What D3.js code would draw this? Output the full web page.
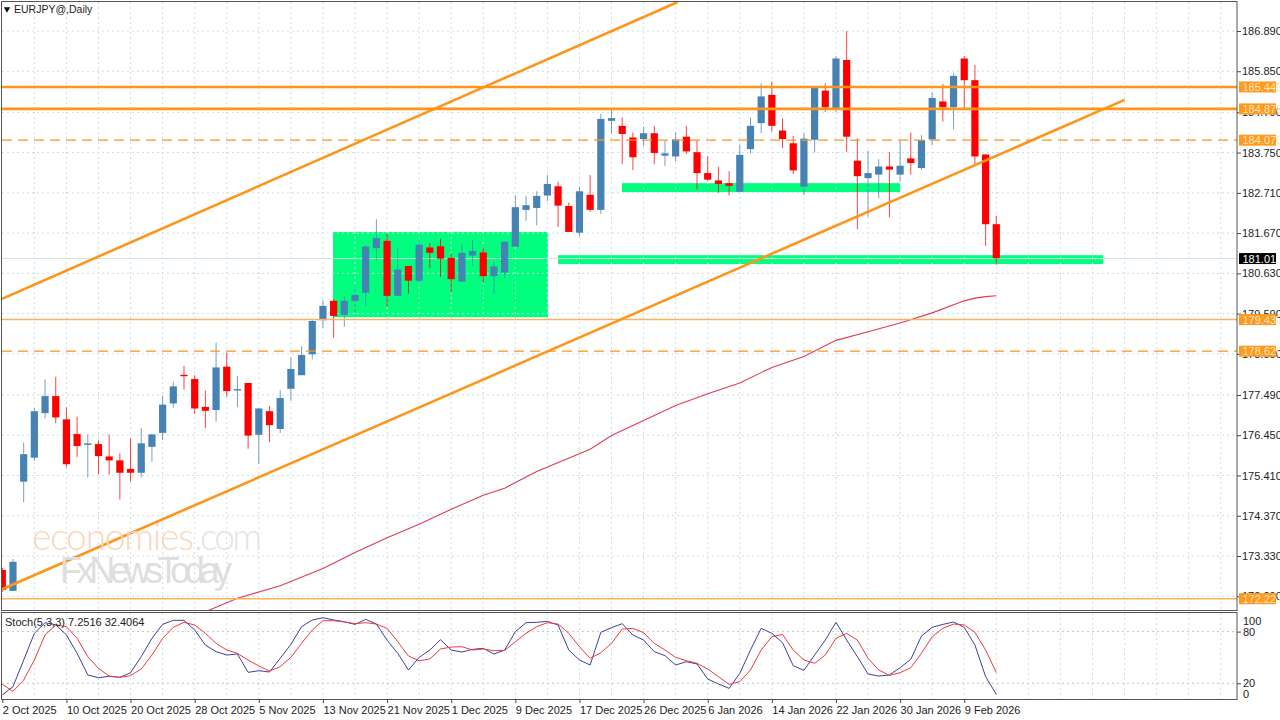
<!DOCTYPE html>
<html>
<head>
<meta charset="utf-8">
<script src="https://cdn.jsdelivr.net/npm/d3@7"></script>
<style>
  html, body { margin: 0; padding: 0; background: #fff; }
  svg { display: block; }
  text { font-family: "Liberation Sans Narrow", "Liberation Sans", sans-serif; font-size: 11px; fill: #222; }
</style>
</head>
<body>
<script>
const opens = [
  172.97,172.43,175.25,175.87,177.02,177.46,176.86,176.48,176.20,176.22,
  175.90,175.80,175.58,175.48,176.15,176.51,177.27,178.01,177.90,177.18,
  177.10,178.22,177.62,177.80,176.46,177.07,176.61,177.65,178.00,178.54,
  179.42,179.92,179.56,179.92,180.13,181.28,181.47,180.05,180.82,180.44,
  181.30,181.33,181.03,180.42,181.09,181.17,180.56,180.65,181.32,182.27,
  182.32,182.64,182.88,182.37,181.68,182.66,182.27,184.57,184.44,184.14,
  184.10,184.25,183.67,183.65,184.16,183.76,183.22,183.03,182.96,182.74,
  183.84,184.51,185.24,184.32,183.99,182.87,184.08,185.35,184.85,186.14,
  183.54,183.09,183.18,183.39,183.18,183.60,183.35,184.09,185.07,184.92,
  186.18,185.62,183.70,181.90];
const closes = [
  172.45,173.18,175.96,177.07,177.46,176.91,175.70,176.17,176.24,175.91,
  175.80,175.48,175.48,176.24,176.47,177.24,177.71,177.98,177.14,177.08,
  178.20,177.59,177.64,176.44,177.14,176.71,177.41,178.16,178.52,179.40,
  179.79,179.53,179.92,180.07,181.32,181.54,180.05,180.73,180.44,181.37,
  181.16,181.01,180.48,181.16,181.21,180.56,180.81,181.45,182.34,182.39,
  182.63,182.94,182.38,181.70,182.75,182.27,184.62,184.64,184.23,183.63,
  184.25,183.74,183.73,184.09,183.78,183.22,183.05,182.94,182.89,183.69,
  184.44,185.20,184.44,184.10,183.29,184.11,185.42,184.92,186.18,184.16,
  183.14,183.22,183.39,183.31,183.41,183.48,184.07,185.16,184.92,185.73,
  185.62,183.65,181.90,181.02];
const highs = [
  173.02,173.25,176.26,177.15,177.89,177.96,177.17,176.93,176.47,176.32,
  176.47,175.98,176.37,176.63,176.48,177.46,177.83,178.24,178.00,177.60,
  178.84,178.58,177.98,177.80,177.15,177.21,177.62,178.46,178.75,179.45,
  179.94,179.96,180.03,180.28,181.36,182.03,181.66,181.28,180.82,181.47,
  181.41,181.53,181.15,181.39,181.49,181.30,180.93,181.45,182.65,182.63,
  182.75,183.17,183.00,182.46,182.87,183.17,184.75,184.85,184.66,184.27,
  184.42,184.44,184.07,184.27,184.44,184.07,183.66,183.38,183.27,183.96,
  184.66,185.54,185.58,184.63,184.18,184.25,185.42,185.54,186.24,186.89,
  184.12,183.80,183.58,183.76,184.07,184.27,184.20,185.30,185.52,185.81,
  186.24,186.01,183.70,182.12];
const lows = [
  172.40,172.42,174.72,175.79,176.89,176.76,175.62,175.89,175.36,175.44,
  175.44,174.79,175.25,175.36,175.76,176.32,177.16,177.63,177.00,176.63,
  176.80,177.44,177.18,176.10,175.70,176.27,176.51,177.34,178.00,178.41,
  179.22,178.97,179.25,179.61,179.79,180.97,179.77,180.05,180.11,180.37,
  180.76,180.54,180.14,180.42,180.83,180.39,180.10,180.50,181.32,181.99,
  181.87,182.50,181.83,181.70,181.58,182.22,182.16,184.23,183.45,183.30,
  183.92,183.45,183.41,183.52,183.71,182.80,183.01,182.71,182.64,182.74,
  183.73,184.25,184.29,183.87,183.20,182.65,183.75,184.80,184.80,183.77,
  181.77,182.09,182.57,182.08,183.00,183.18,183.30,183.94,184.55,184.35,
  184.85,183.45,181.34,180.85];

// moving average, read at a few bars only
const maBars = [19,22,26,30,33,36,39,42,45,47,49,50,55,57,59,63,66,69,72,75,78,81,84,87,90,91,92,93];
const maValues = [171.89,172.24,172.56,173.01,173.42,173.80,174.15,174.54,174.90,175.08,175.37,175.51,176.09,176.44,176.70,177.22,177.52,177.80,178.20,178.48,178.90,179.12,179.35,179.61,179.92,179.99,180.03,180.05];

const stochMain = [
  6.4,16.1,47.0,78.0,90.4,88.0,76.1,54.8,29.6,26.5,28.1,26.9,32.3,50.9,72.2,88.4,93.1,93.1,81.9,64.4,
  56.7,52.8,54.0,32.7,34.6,33.1,49.0,65.2,85.7,93.5,96.2,93.5,91.5,88.4,94.2,88.8,70.2,54.8,35.4,50.1,
  58.6,70.6,58.6,56.3,59.4,60.6,54.0,58.6,79.9,90.4,90.8,91.9,87.7,58.6,47.0,41.2,79.2,84.6,89.2,76.1,
  70.2,56.7,52.1,41.2,45.1,42.4,25.0,19.2,14.1,31.5,58.6,83.8,78.0,67.2,40.4,35.0,52.8,70.2,90.8,70.2,
  50.9,30.8,28.4,29.6,38.1,47.8,74.9,85.0,88.4,91.2,85.0,64.4,27.7,7.25];
const stochSignal = [
  18.8,10.6,23.8,47.0,76.1,87.7,85.7,72.2,50.9,37.3,28.4,26.9,28.8,36.6,52.8,72.2,85.0,90.8,87.7,78.0,
  66.4,58.6,54.8,47.0,40.1,34.2,39.3,50.1,66.4,81.9,92.7,92.7,91.2,89.2,90.4,88.8,83.8,68.3,51.7,46.2,
  48.2,59.8,62.1,62.5,58.6,59.8,57.9,58.2,68.3,78.0,85.7,90.4,88.8,78.0,62.5,49.0,55.5,66.4,83.0,83.8,
  78.8,66.4,58.6,50.1,46.2,43.2,36.6,27.7,18.8,21.9,35.4,58.6,74.1,76.8,58.6,47.0,43.2,52.8,72.2,78.0,
  70.2,49.0,35.4,29.2,32.3,38.1,54.8,74.1,83.8,88.8,87.7,79.2,58.6,32.4];

const priceTicks = [186.89,185.85,184.79,183.75,182.71,181.67,180.63,179.59,178.55,177.49,176.45,175.41,174.37,173.33,172.29];
const stochLevels = [80,20];
const dateLabels = ["2 Oct 2025","10 Oct 2025","20 Oct 2025","28 Oct 2025","5 Nov 2025","13 Nov 2025","21 Nov 2025","1 Dec 2025","9 Dec 2025","17 Dec 2025","26 Dec 2025","6 Jan 2026","14 Jan 2026","22 Jan 2026","30 Jan 2026","9 Feb 2026"];

// drawn objects: [bar, price] pairs and levels
const levelPrices = [185.445,184.878,184.07,179.437,178.62,172.227];
const levelStyles = ["thick","thick","dash","thin","dash","thin"];
const channelUpper = [[-0.03,179.97],[63.2,187.64]];
const channelLower = [[-0.2,172.45],[105,185.11]];
const zoneBars = [[30.94,51.05],[57.98,84],[52,103]];
const zonePrices = [[181.70,179.50],[182.96,182.73],[181.10,180.87]];
const lastPrice = 181.013;
const stochText = "Stoch(5,3,3) 7.2516 32.4064";

const width = 1280, height = 720;
const plotLeft = 2, plotRight = 1237, mainTop = 2, mainBottom = 611, stochTop = 613, stochBottom = 700;
const orange = "#ff9419", blue = "#4682b4", red = "#ff0000", gridColor = "#c9e0e2";

const x = d3.scaleLinear().domain([0, 93]).range([2.3, 996.3]);
const y = d3.scaleLinear().domain([186.89, 173.33]).range([31, 556]);
const yStoch = d3.scaleLinear().domain([0, 100]).range([700.5, 614.4]);

const svg = d3.select("body").append("svg")
    .attr("width", width)
    .attr("height", height)
    .attr("viewBox", [0, 0, width, height]);

svg.append("clipPath").attr("id", "main-clip").append("rect")
    .attr("x", plotLeft).attr("y", mainTop)
    .attr("width", plotRight - plotLeft).attr("height", mainBottom - mainTop);
svg.append("clipPath").attr("id", "stoch-clip").append("rect")
    .attr("x", plotLeft).attr("y", stochTop)
    .attr("width", plotRight - plotLeft).attr("height", stochBottom - stochTop);

const main = svg.append("g").attr("clip-path", "url(#main-clip)");
const stoch = svg.append("g").attr("clip-path", "url(#stoch-clip)");

// zones sit under the grid
main.append("g").selectAll("rect")
  .data(zoneBars)
  .join("rect")
    .attr("x", d => x(d[0]))
    .attr("width", d => x(d[1]) - x(d[0]))
    .attr("y", (d, i) => y(zonePrices[i][0]))
    .attr("height", (d, i) => y(zonePrices[i][1]) - y(zonePrices[i][0]))
    .attr("fill", "#00ff7f");

// grid, one line every 3 bars
const gridBars = d3.range(3, 115, 3);
[[main, mainTop, mainBottom], [stoch, stochTop, stochBottom]].forEach(([g, top, bottom]) => {
  g.append("g").selectAll("line")
    .data(gridBars)
    .join("line")
      .attr("x1", d => x(d)).attr("x2", d => x(d))
      .attr("y1", top).attr("y2", bottom)
      .attr("stroke", gridColor)
      .attr("stroke-dasharray", "2,3");
});
main.append("g").selectAll("line")
  .data(priceTicks)
  .join("line")
    .attr("x1", plotLeft).attr("x2", plotRight)
    .attr("y1", d => y(d)).attr("y2", d => y(d))
    .attr("stroke", gridColor)
    .attr("stroke-dasharray", "2,3");
stoch.append("g").selectAll("line")
  .data(stochLevels)
  .join("line")
    .attr("x1", plotLeft).attr("x2", plotRight)
    .attr("y1", d => yStoch(d)).attr("y2", d => yStoch(d))
    .attr("stroke", "#c4c4c4")
    .attr("stroke-dasharray", "2,3");

// last price line
main.append("line")
    .attr("x1", plotLeft).attr("x2", plotRight)
    .attr("y1", y(lastPrice)).attr("y2", y(lastPrice))
    .attr("stroke", "#cfe6e0");

// candles
const bars = d3.range(opens.length);
const candleColor = i => closes[i] >= opens[i] ? blue : red;

main.append("g").selectAll("line")
  .data(bars)
  .join("line")
    .attr("x1", i => x(i)).attr("x2", i => x(i))
    .attr("y1", i => y(highs[i])).attr("y2", i => y(lows[i]))
    .attr("stroke", candleColor)
    .attr("stroke-opacity", 0.75);

main.append("g").selectAll("rect")
  .data(bars)
  .join("rect")
    .attr("x", i => x(i) - 3.6)
    .attr("width", 7.2)
    .attr("y", i => y(Math.max(opens[i], closes[i])))
    .attr("height", i => Math.max(1.4, Math.abs(y(opens[i]) - y(closes[i]))))
    .attr("fill", candleColor);

// moving average
main.append("path")
    .datum(maBars)
    .attr("fill", "none")
    .attr("stroke", "#e23a55")
    .attr("stroke-width", 1.1)
    .attr("d", d3.line().x(d => x(d)).y((d, i) => y(maValues[i])));

// levels
const levelWidth = {thick: 2.6, thin: 1.6, dash: 1.3};
main.append("g").selectAll("line")
  .data(levelPrices)
  .join("line")
    .attr("x1", plotLeft).attr("x2", plotRight)
    .attr("y1", d => y(d)).attr("y2", d => y(d))
    .attr("stroke", (d, i) => levelStyles[i] == "thin" ? "#fbb25f" : orange)
    .attr("stroke-width", (d, i) => levelWidth[levelStyles[i]])
    .attr("stroke-dasharray", (d, i) => levelStyles[i] == "dash" ? "10,6" : null);

// channel
const channelLine = d3.line().x(d => x(d[0])).y(d => y(d[1]));
main.append("g").selectAll("path")
  .data([channelUpper, channelLower])
  .join("path")
    .attr("fill", "none")
    .attr("stroke", orange)
    .attr("stroke-width", 2.6)
    .attr("d", channelLine);

// watermark
const mark = main.append("g");
mark.append("text")
    .attr("x", 32).attr("y", 550)
    .style("font-family", "Lato, 'Open Sans', sans-serif")
    .style("font-weight", 300)
    .style("font-size", "37px")
    .style("fill", "#fcd5bd")
    .attr("textLength", 162)
    .text("economies");
mark.append("text")
    .attr("x", 194).attr("y", 550)
    .style("font-family", "Lato, 'Open Sans', sans-serif")
    .style("font-weight", 300)
    .style("font-size", "37px")
    .style("fill", "#e4e4e4")
    .attr("textLength", 68)
    .text(".com");
mark.append("text")
    .attr("x", 60).attr("y", 583)
    .style("font-size", "36px")
    .style("fill", "#dedede")
    .attr("textLength", 172)
    .text("FxNewsToday");

// stochastic
const stochLine = values => d3.line().x((d, i) => x(i)).y(d => yStoch(d))(values);
stoch.append("path").attr("fill", "none").attr("stroke", "#3f3f9f").attr("d", stochLine(stochMain));
stoch.append("path").attr("fill", "none").attr("stroke", "#f03a3a").attr("d", stochLine(stochSignal));

// frames
svg.append("g").selectAll("rect")
  .data([[mainTop, mainBottom], [stochTop, stochBottom]])
  .join("rect")
    .attr("x", plotLeft - 0.5)
    .attr("y", d => d[0] - 0.5)
    .attr("width", plotRight - plotLeft + 0.5)
    .attr("height", d => d[1] - d[0])
    .attr("fill", "none")
    .attr("stroke", "#555");

// price axis
const priceAxis = svg.append("g")
    .attr("transform", `translate(${plotRight},0)`)
    .call(d3.axisRight(y).tickValues(priceTicks).tickFormat(d3.format(".3f")).tickSize(4).tickPadding(1));
priceAxis.select(".domain").remove();
priceAxis.selectAll("line").attr("stroke", "#444");
priceAxis.selectAll("text").attr("fill", null);

// level and last price tags
const tags = svg.append("g").selectAll("g")
  .data(levelPrices.concat([lastPrice]))
  .join("g")
    .attr("transform", d => `translate(${plotRight + 2},${y(d)})`);
tags.append("rect")
    .attr("y", -5.5)
    .attr("width", 37)
    .attr("height", 11)
    .attr("fill", d => d == lastPrice ? "#000" : "#ff9a1f");
tags.append("text")
    .attr("x", 3.5)
    .attr("y", 4)
    .style("fill", d => d == lastPrice ? "#fff" : "#ffe3bd")
    .text(d => d3.format(".3f")(d));

// stochastic axis labels
const stochAxis = svg.append("g")
    .attr("transform", `translate(${plotRight},0)`)
    .call(d3.axisRight(yStoch).tickValues(stochLevels).tickSize(4).tickPadding(2));
stochAxis.select(".domain").remove();
stochAxis.selectAll("line").attr("stroke", "#444");
svg.append("g").selectAll("text")
  .data([[100, 625], [0, 698]])
  .join("text")
    .attr("x", plotRight + 6)
    .attr("y", d => d[1])
    .text(d => d[0]);

// date axis
const dateAxis = svg.append("g")
    .attr("transform", `translate(0,${stochBottom})`)
    .call(d3.axisBottom(x)
      .tickValues(dateLabels.map((d, i) => i * 6))
      .tickFormat((d, i) => dateLabels[i])
      .tickSize(3)
      .tickPadding(2));
dateAxis.select(".domain").remove();
dateAxis.selectAll("line").attr("stroke", "#444");
dateAxis.selectAll("text").attr("text-anchor", "start").attr("dy", "0.85em");

// titles
svg.append("path").attr("d", d3.symbol(d3.symbolTriangle, 18)).attr("transform", "translate(7,9) rotate(180)").attr("fill", "#111");
svg.append("text").attr("x", 14).attr("y", 13).style("font-size", "10.5px").text("EURJPY@,Daily");
svg.append("text").attr("x", 5).attr("y", 626).text(stochText);
</script>
</body>
</html>
